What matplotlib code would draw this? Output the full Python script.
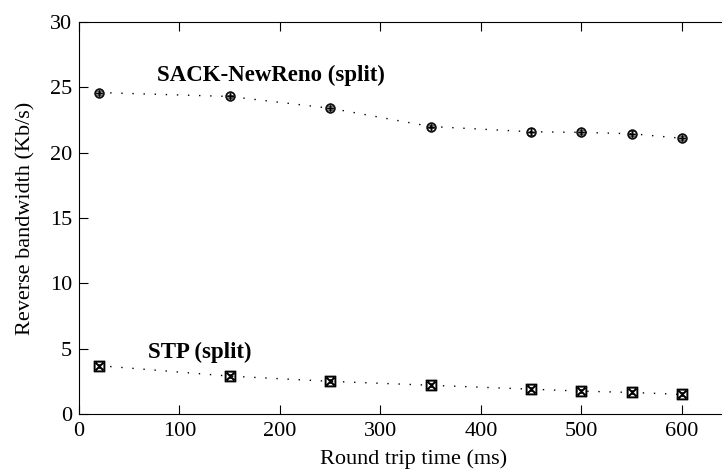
import matplotlib
matplotlib.use("Agg")
import matplotlib.pyplot as plt

plt.rcParams['font.family'] = ['Liberation Serif', 'DejaVu Serif']

rtt = [20, 150, 250, 350, 450, 500, 550, 600]
sack = [24.6, 24.3, 23.4, 22.0, 21.6, 21.55, 21.45, 21.1]
sack_err = [0.15, 0.15, 0.15, 0.15, 0.25, 0.15, 0.2, 0.15]
stp = [3.7, 2.9, 2.5, 2.2, 1.9, 1.75, 1.65, 1.5]
stp_err = [0.15, 0.15, 0.15, 0.15, 0.15, 0.15, 0.15, 0.15]

fig = plt.figure(figsize=(7.22, 4.75), dpi=100)
ax = fig.add_axes([0.1094, 0.1284, 0.8906, 0.8253])

ax.errorbar(rtt, sack, yerr=sack_err, color='black', linestyle=(0, (1, 7)),
            linewidth=1, marker='$\\oplus$', markersize=7, capsize=2,
            elinewidth=0.8, markeredgewidth=0.4)
ax.errorbar(rtt, stp, yerr=stp_err, color='black', linestyle=(0, (1, 7)),
            linewidth=1, marker='$\\boxtimes$', markersize=8, capsize=2,
            elinewidth=0.8, markeredgewidth=0.4)

ax.text(78, 25.9, "SACK-NewReno (split)", fontsize=16.5, fontweight='bold',
        va='center', ha='left')
ax.text(69, 4.75, "STP (split)", fontsize=16.5, fontweight='bold',
        va='center', ha='left')

ax.set_xlim(0, 640)
ax.set_ylim(0, 30)
ax.set_xticks([0, 100, 200, 300, 400, 500, 600])
ax.set_yticks([0, 5, 10, 15, 20, 25, 30])
ax.tick_params(direction='in', length=6.5, labelsize=16, top=True, right=False)
ax.tick_params(axis='x', pad=6)
ax.tick_params(axis='y', pad=5)
ax.spines['right'].set_visible(False)
ax.set_xlabel("Round trip time (ms)", fontsize=16)
ax.set_ylabel("Reverse bandwidth (Kb/s)", fontsize=16, labelpad=10)
ax.xaxis.set_label_coords(0.52, -0.09)

fig.savefig("out.png", dpi=100)
